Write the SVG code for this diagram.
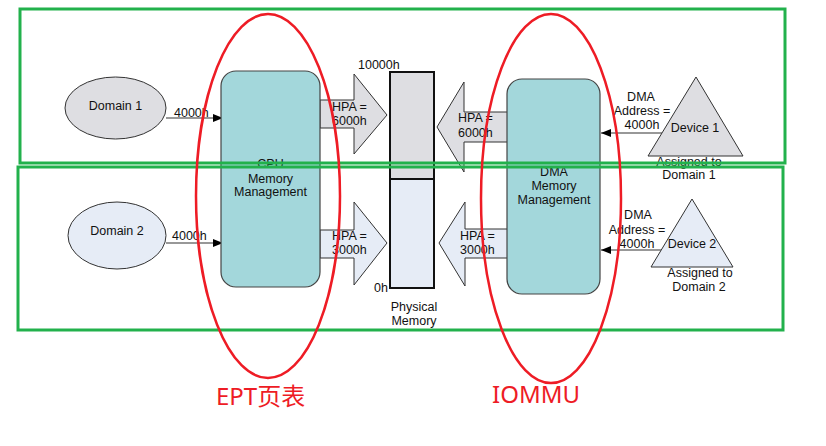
<svg xmlns="http://www.w3.org/2000/svg" width="826" height="446" viewBox="0 0 826 446">
<style>
  text { font-family: "Liberation Sans", Arial, sans-serif; font-size: 12.5px; fill: #111; }
  .mid { text-anchor: middle; }
  .gray { fill: #dedee2; stroke: #333; stroke-width: 1; }
  .blue { fill: #e6ecf6; stroke: #333; stroke-width: 1; }
  .teal { fill: #a3d7db; stroke: #444; stroke-width: 1.2; }
  .conn { stroke: #333; stroke-width: 1.2; fill: none; marker-end: url(#ah); }
  .green { fill: none; stroke: #22b14c; stroke-width: 3; }
  .red { fill: none; stroke: #ee1c25; stroke-width: 2.5; }
  .note { font-family: "Noto Sans", "Noto Sans CJK SC", sans-serif; font-size: 24px; fill: #ee1c25; }
</style>
<defs>
  <marker id="ah" viewBox="0 0 10 8" refX="10" refY="4" markerWidth="10" markerHeight="8" markerUnits="userSpaceOnUse" orient="auto">
    <path d="M0,0 L10,4 L0,8 Z" fill="#000"/>
  </marker>
</defs>

<g id="domain1">
  <ellipse class="gray" cx="115.5" cy="108" rx="50.5" ry="31"/>
  <text class="mid" x="115.5" y="110">Domain 1</text>
</g>
<g id="domain2">
  <ellipse class="blue" cx="117" cy="235.5" rx="49" ry="33.5"/>
  <text class="mid" x="117" y="235">Domain 2</text>
</g>

<g id="connectors">
  <line class="conn" x1="166" y1="118" x2="223" y2="118"/>
  <text x="174" y="117">4000h</text>
  <line class="conn" x1="166" y1="243" x2="223" y2="243"/>
  <text x="172" y="240">4000h</text>
  <line class="conn" x1="662" y1="133" x2="601" y2="133"/>
  <text class="mid" x="641" y="101">DMA</text>
  <text class="mid" x="642" y="115">Address =</text>
  <text class="mid" x="642" y="129">4000h</text>
  <line class="conn" x1="662" y1="250" x2="601" y2="250"/>
  <text class="mid" x="638" y="219">DMA</text>
  <text class="mid" x="637" y="234">Address =</text>
  <text class="mid" x="637" y="248">4000h</text>
</g>

<g id="hpa-cpu-1">
  <path class="gray" d="M320,100 H354 V74 L387,115 L354,154 V128 H320 Z"/>
  <text x="332" y="111">HPA =</text>
  <text x="332" y="125">6000h</text>
</g>
<g id="hpa-cpu-2">
  <path class="blue" d="M320,230 H354 V202 L387,243 L354,285 V258 H320 Z"/>
  <text x="332" y="240">HPA =</text>
  <text x="332" y="254">3000h</text>
</g>
<g id="hpa-dma-1">
  <path class="gray" d="M508,112 H464 V82 L437,127 L464,172 V142 H508 Z"/>
  <text x="458" y="122">HPA =</text>
  <text x="458" y="137">6000h</text>
</g>
<g id="hpa-dma-2">
  <path class="blue" d="M508,229 H465 V202 L439,243 L465,286 V258 H508 Z"/>
  <text x="460" y="240">HPA =</text>
  <text x="460" y="254">3000h</text>
</g>

<g id="cpu-mmu">
  <rect class="teal" x="221" y="71" width="99" height="216" rx="15" ry="15"/>
  <text class="mid" x="270.5" y="168">CPU</text>
  <text class="mid" x="270.5" y="183">Memory</text>
  <text class="mid" x="270.5" y="196">Management</text>
</g>

<g id="physical-memory">
  <rect x="390" y="72" width="44" height="107" fill="#dedee2"/>
  <rect x="390" y="179" width="44" height="109" fill="#e6ecf6"/>
  <rect x="390" y="72" width="44" height="216" fill="none" stroke="#111" stroke-width="2"/>
  <line x1="390" y1="179" x2="434" y2="179" stroke="#111" stroke-width="2"/>
  <text x="358" y="69">10000h</text>
  <text x="374" y="292">0h</text>
  <text class="mid" x="414" y="311">Physical</text>
  <text class="mid" x="414" y="325">Memory</text>
</g>

<g id="dma-mmu">
  <rect class="teal" x="507" y="79" width="93" height="215" rx="15" ry="15"/>
  <text class="mid" x="554" y="176">DMA</text>
  <text class="mid" x="554" y="190">Memory</text>
  <text class="mid" x="554" y="204">Management</text>
</g>

<g id="device1">
  <path class="gray" d="M696,77 L743,156 L648,156 Z"/>
  <text class="mid" x="695" y="132">Device 1</text>
  <text class="mid" x="689" y="166">Assigned to</text>
  <text class="mid" x="689" y="179">Domain 1</text>
</g>
<g id="device2">
  <path class="blue" d="M692,199 L733,267 L651,267 Z"/>
  <text class="mid" x="692" y="248">Device 2</text>
  <text class="mid" x="700" y="277">Assigned to</text>
  <text class="mid" x="699" y="291">Domain 2</text>
</g>

<g id="annotations">
  <rect class="green" x="20" y="9" width="765" height="154"/>
  <rect class="green" x="18" y="167" width="765" height="163"/>
  <ellipse class="red" cx="268" cy="196" rx="72" ry="182"/>
  <ellipse class="red" cx="551" cy="198.5" rx="70" ry="184.5"/>
  <text class="note" x="216" y="405">EPT页表</text>
  <text class="note" x="492" y="403">IOMMU</text>
</g>
</svg>
